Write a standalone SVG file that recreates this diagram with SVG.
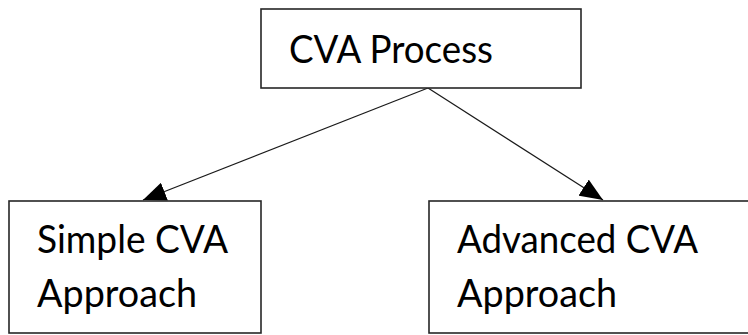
<svg xmlns="http://www.w3.org/2000/svg" width="748" height="335" viewBox="0 0 748 335">
  <style>
    .box { fill: #ffffff; stroke: #262626; stroke-width: 1.6; }
    .lbl { font-family: Lato, "Open Sans", "Liberation Sans", sans-serif; font-size: 38px; fill: #000000; }
    .conn { stroke: #1a1a1a; stroke-width: 1.2; fill: none; marker-end: url(#arrow); }
  </style>
  <defs>
    <marker id="arrow" markerUnits="userSpaceOnUse" markerWidth="23" markerHeight="19" viewBox="0 0 23 19" refX="23" refY="9.5" orient="auto">
      <path d="M0,0 L23,9.5 L0,19 z" fill="#000000"/>
    </marker>
  </defs>
  <rect width="748" height="335" fill="#ffffff"/>
  <g id="connectors">
    <line class="conn" x1="428" y1="88" x2="143" y2="200"/>
    <line class="conn" x1="428" y1="88" x2="603" y2="200"/>
  </g>
  <g id="node-cva-process">
    <rect class="box" x="261" y="9" width="320" height="79"/>
    <text class="lbl" x="289" y="63" textLength="204" lengthAdjust="spacingAndGlyphs">CVA Process</text>
  </g>
  <g id="node-simple">
    <rect class="box" x="9" y="201" width="252" height="132"/>
    <text class="lbl" x="37" y="253" textLength="191" lengthAdjust="spacingAndGlyphs">Simple CVA</text>
    <text class="lbl" x="37" y="307" textLength="160" lengthAdjust="spacingAndGlyphs">Approach</text>
  </g>
  <g id="node-advanced">
    <rect class="box" x="429" y="201" width="340" height="132"/>
    <text class="lbl" x="457" y="253" textLength="241" lengthAdjust="spacingAndGlyphs">Advanced CVA</text>
    <text class="lbl" x="457" y="307" textLength="160" lengthAdjust="spacingAndGlyphs">Approach</text>
  </g>
</svg>
